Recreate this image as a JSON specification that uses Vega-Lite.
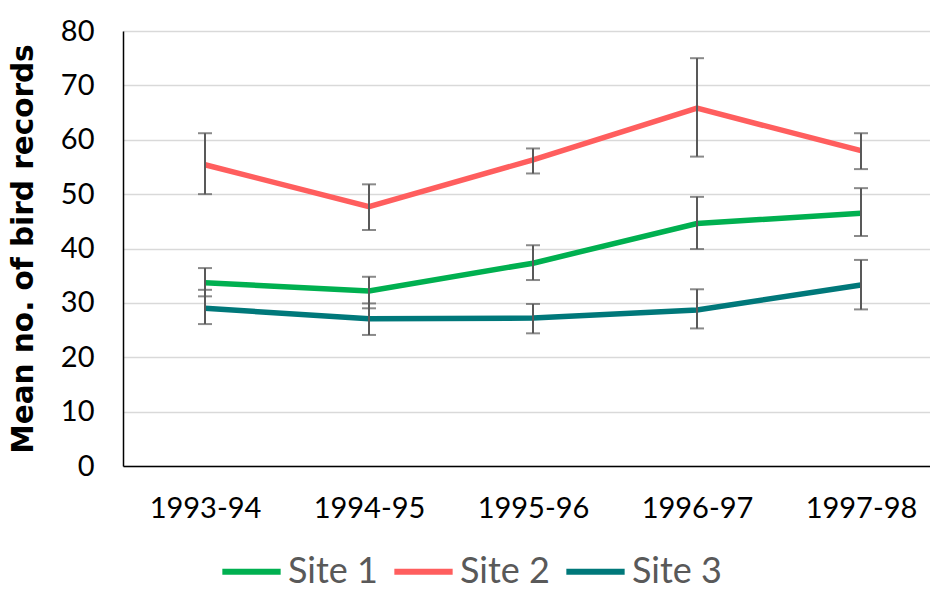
{
  "$schema": "https://vega.github.io/schema/vega-lite/v6.json",
  "autosize": "none",
  "width": 807,
  "height": 435,
  "padding": {"left": 123, "top": 31, "right": 0, "bottom": 126},
  "background": "white",
  "config": {"view": {"stroke": null}, "font": "Lato"},
  "data": {"values": [
    {"year": "1993-94", "site": "Site 1", "mean": 33.7, "lo": 31.2, "hi": 36.4},
    {"year": "1994-95", "site": "Site 1", "mean": 32.2, "lo": 29.0, "hi": 34.8},
    {"year": "1995-96", "site": "Site 1", "mean": 37.3, "lo": 34.2, "hi": 40.6},
    {"year": "1996-97", "site": "Site 1", "mean": 44.6, "lo": 39.9, "hi": 49.5},
    {"year": "1997-98", "site": "Site 1", "mean": 46.5, "lo": 42.3, "hi": 51.1},
    {"year": "1993-94", "site": "Site 2", "mean": 55.4, "lo": 50.0, "hi": 61.2},
    {"year": "1994-95", "site": "Site 2", "mean": 47.7, "lo": 43.4, "hi": 51.8},
    {"year": "1995-96", "site": "Site 2", "mean": 56.3, "lo": 53.8, "hi": 58.4},
    {"year": "1996-97", "site": "Site 2", "mean": 65.8, "lo": 56.9, "hi": 75.0},
    {"year": "1997-98", "site": "Site 2", "mean": 58.0, "lo": 54.6, "hi": 61.2},
    {"year": "1993-94", "site": "Site 3", "mean": 29.0, "lo": 26.1, "hi": 32.4},
    {"year": "1994-95", "site": "Site 3", "mean": 27.1, "lo": 24.1, "hi": 29.9},
    {"year": "1995-96", "site": "Site 3", "mean": 27.2, "lo": 24.4, "hi": 29.8},
    {"year": "1996-97", "site": "Site 3", "mean": 28.7, "lo": 25.3, "hi": 32.5},
    {"year": "1997-98", "site": "Site 3", "mean": 33.3, "lo": 28.8, "hi": 37.9}
  ]},
  "encoding": {
    "x": {
      "field": "year", "type": "ordinal",
      "scale": {"type": "point", "range": [0, 820], "padding": 0.5},
      "axis": {
        "title": null, "labelAngle": 0, "ticks": false, "grid": false,
        "domainColor": "#000000", "domainWidth": 1.5,
        "labelFont": "Lato", "labelFontSize": 29, "labelColor": "#000000",
        "labelPadding": 28
      }
    }
  },
  "layer": [
    {
      "mark": {"type": "line", "strokeWidth": 5.5},
      "encoding": {
        "y": {
          "field": "mean", "type": "quantitative",
          "scale": {"domain": [0, 80], "nice": false},
          "axis": {
            "values": [0, 10, 20, 30, 40, 50, 60, 70, 80],
            "title": "Mean no. of bird records",
            "titleFont": "DejaVu Sans", "titleFontWeight": "bold", "titleFontSize": 29.5,
            "titleColor": "#000000", "titlePadding": 22,
            "ticks": false, "domainColor": "#000000", "domainWidth": 1.5,
            "gridColor": "#d9d9d9", "gridWidth": 1.5,
            "labelFont": "Lato", "labelFontSize": 29, "labelColor": "#000000",
            "labelPadding": 29
          }
        },
        "color": {
          "field": "site", "type": "nominal",
          "scale": {"domain": ["Site 1", "Site 2", "Site 3"], "range": ["#00B050", "#FF5E5E", "#00787A"]},
          "legend": {
            "title": null, "orient": "none", "direction": "horizontal",
            "legendX": 96, "legendY": 508,
            "symbolType": "stroke", "symbolSize": 3400, "symbolStrokeWidth": 6,
            "labelFont": "Lato", "labelFontSize": 36, "labelColor": "#595959",
            "labelOffset": 4, "columnPadding": 4, "padding": 0
          }
        }
      }
    },
    {
      "mark": {"type": "rule", "color": "#595959", "strokeWidth": 2},
      "encoding": {"y": {"field": "lo", "type": "quantitative"}, "y2": {"field": "hi"}}
    },
    {
      "mark": {"type": "tick", "color": "#595959", "thickness": 2, "size": 14, "orient": "horizontal"},
      "encoding": {"y": {"field": "lo", "type": "quantitative"}}
    },
    {
      "mark": {"type": "tick", "color": "#595959", "thickness": 2, "size": 14, "orient": "horizontal"},
      "encoding": {"y": {"field": "hi", "type": "quantitative"}}
    }
  ]
}
